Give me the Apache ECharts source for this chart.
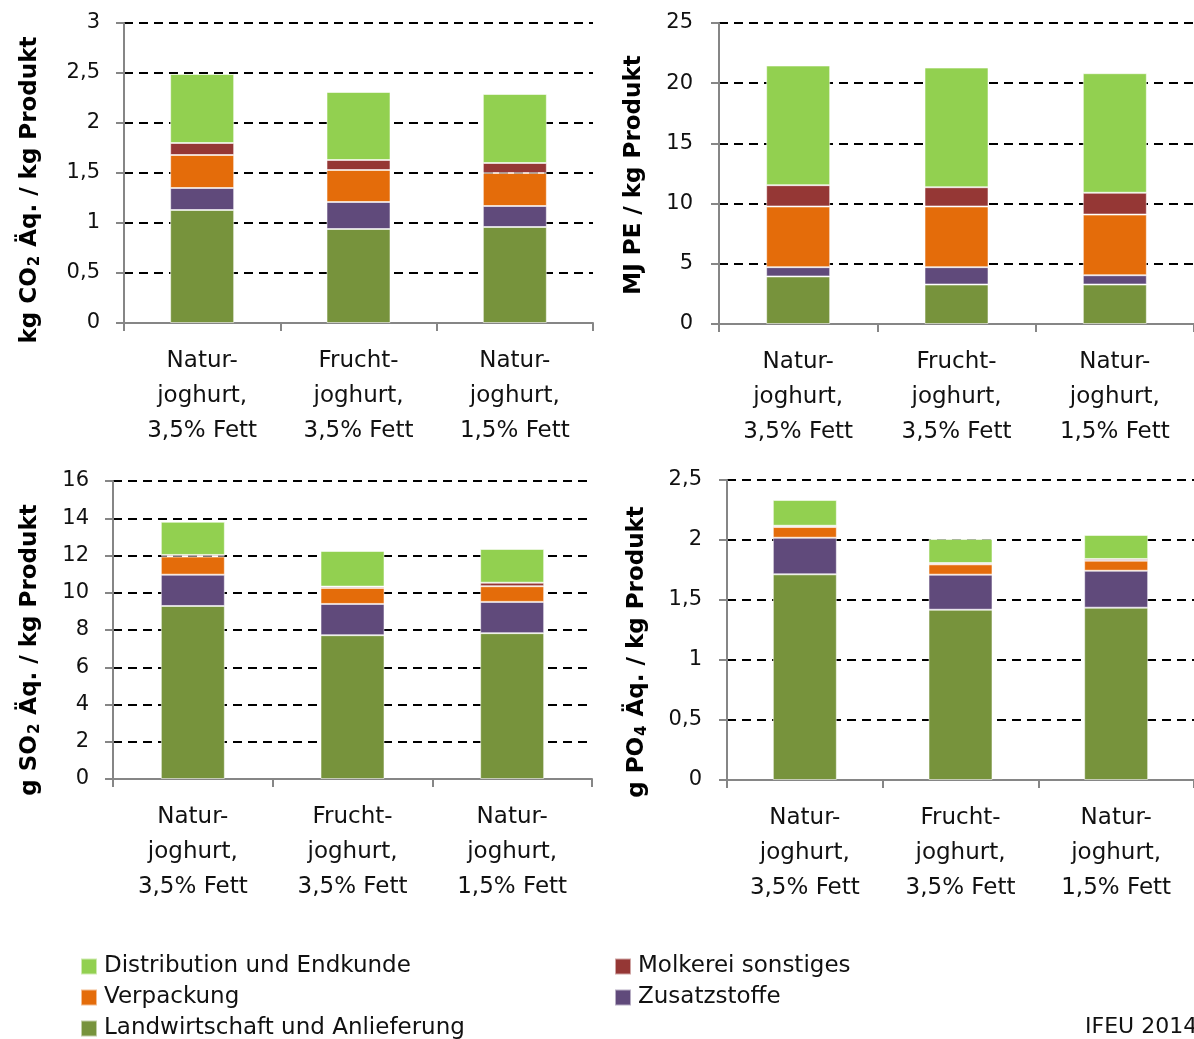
<!DOCTYPE html>
<html>
<head>
<meta charset="utf-8">
<title>Joghurt Umweltwirkungen</title>
<script src="https://cdn.jsdelivr.net/npm/echarts@6/dist/echarts.min.js"></script>
<style>
  html, body { margin: 0; padding: 0; background: #fff; }
  #chart { width: 1194px; height: 1039px; }
</style>
</head>
<body>
<div id="chart"></div>
<script>
// Produkte (x-Achse)
const categories = [
  'Natur-\njoghurt,\n3,5% Fett',
  'Frucht-\njoghurt,\n3,5% Fett',
  'Natur-\njoghurt,\n1,5% Fett'
];

// Lebenswegabschnitte (von unten nach oben gestapelt)
const stageNames = [
  'Landwirtschaft und Anlieferung',
  'Zusatzstoffe',
  'Verpackung',
  'Molkerei sonstiges',
  'Distribution und Endkunde'
];
const stageColors = ['#77933C', '#604A7B', '#E46C0A', '#953735', '#92D050'];

// Treibhauseffekt: kg CO2 Äq. / kg Produkt
const co2Landwirtschaft = [1.13, 0.94, 0.96];
const co2Zusatzstoffe   = [0.22, 0.27, 0.21];
const co2Verpackung     = [0.33, 0.32, 0.33];
const co2Molkerei       = [0.12, 0.10, 0.10];
const co2Distribution   = [0.69, 0.68, 0.69];

// Primärenergie: MJ PE / kg Produkt
const peLandwirtschaft = [3.95, 3.28, 3.28];
const peZusatzstoffe   = [0.77, 1.44, 0.77];
const peVerpackung     = [5.04, 5.04, 5.04];
const peMolkerei       = [1.77, 1.60, 1.81];
const peDistribution   = [9.94, 9.94, 9.93];

// Versauerung: g SO2 Äq. / kg Produkt
const so2Landwirtschaft = [9.29, 7.72, 7.83];
const so2Zusatzstoffe   = [1.68, 1.68, 1.68];
const so2Verpackung     = [0.97, 0.86, 0.84];
const so2Molkerei       = [0.09, 0.07, 0.19];
const so2Distribution   = [1.78, 1.91, 1.81];

// Eutrophierung: g PO4 Äq. / kg Produkt
const po4Landwirtschaft = [1.714, 1.419, 1.436];
const po4Zusatzstoffe   = [0.305, 0.292, 0.308];
const po4Verpackung     = [0.089, 0.086, 0.084];
const po4Molkerei       = [0.011, 0.011, 0.014];
const po4Distribution   = [0.214, 0.200, 0.200];

// Achsenbereiche je Diagramm
const co2Axis = { min: 0, max: 3, interval: 0.5 };
const peAxis  = { min: 0, max: 25, interval: 5 };
const so2Axis = { min: 0, max: 16, interval: 2 };
const po4Axis = { min: 0, max: 2.5, interval: 0.5 };

const panels = [
  { axis: co2Axis, data: [co2Landwirtschaft, co2Zusatzstoffe, co2Verpackung, co2Molkerei, co2Distribution] },
  { axis: peAxis,  data: [peLandwirtschaft, peZusatzstoffe, peVerpackung, peMolkerei, peDistribution] },
  { axis: so2Axis, data: [so2Landwirtschaft, so2Zusatzstoffe, so2Verpackung, so2Molkerei, so2Distribution] },
  { axis: po4Axis, data: [po4Landwirtschaft, po4Zusatzstoffe, po4Verpackung, po4Molkerei, po4Distribution] }
];

const FONT = '"DejaVu Sans", sans-serif';
const AXIS_GRAY = '#868686';

const grids = [
  { left: 124, top: 23,  width: 469, height: 300 },
  { left: 719, top: 23,  width: 478, height: 301 },
  { left: 113, top: 481, width: 479, height: 298 },
  { left: 727, top: 480, width: 470, height: 300 }
];
const labelMargins = [24, 26, 24, 25];

const xAxes = grids.map((g, i) => ({
  type: 'category',
  gridIndex: i,
  data: categories,
  axisLine: { lineStyle: { color: AXIS_GRAY, width: 2 } },
  axisTick: { show: true, length: 8, lineStyle: { color: AXIS_GRAY, width: 2 } },
  axisLabel: {
    color: '#111', fontFamily: FONT, fontSize: 23, lineHeight: 35, margin: 21,
    interval: 0
  }
}));

const yAxes = panels.map((p, i) => ({
  type: 'value',
  gridIndex: i,
  min: p.axis.min,
  max: p.axis.max,
  interval: p.axis.interval,
  axisLine: { show: true, lineStyle: { color: AXIS_GRAY, width: 2 } },
  axisTick: { show: true, length: 8, lineStyle: { color: AXIS_GRAY, width: 2 } },
  splitLine: { show: true, lineStyle: { color: '#000', width: 2, type: [9, 6] } },
  axisLabel: {
    color: '#111', fontFamily: FONT, fontSize: 21, margin: labelMargins[i],
    formatter: v => String(v).replace('.', ',')
  }
}));

const series = [];
panels.forEach((p, i) => {
  p.data.forEach((values, s) => {
    series.push({
      type: 'bar',
      name: stageNames[s],
      xAxisIndex: i,
      yAxisIndex: i,
      stack: 'panel' + i,
      barWidth: 64,
      data: values,
      itemStyle: {
        color: stageColors[s],
        borderColor: 'rgba(255,255,255,0.55)',
        borderWidth: 1
      },
      emphasis: { disabled: true }
    });
  });
});

// Achsentitel mit tiefgestellten Ziffern
const titleRich = {
  b: { fontFamily: FONT, fontWeight: 'bold', fontSize: 23, lineHeight: 30, fill: '#000', verticalAlign: 'middle' },
  s: { fontFamily: FONT, fontWeight: 'bold', fontSize: 15, lineHeight: 30, fill: '#000', verticalAlign: 'bottom', padding: [0, 1, 2, 1] }
};
function axisTitle(x, y, text) {
  return {
    type: 'text',
    x: x, y: y,
    rotation: Math.PI / 2,
    style: { text: text, rich: titleRich, align: 'center', verticalAlign: 'middle' }
  };
}

const legendText = { color: '#111', fontFamily: FONT, fontSize: 23, lineHeight: 22, padding: [0, 0, 0, 2] };

const option = {
  animation: false,
  backgroundColor: '#fff',
  grid: grids.map(g => Object.assign({ containLabel: false }, g)),
  xAxis: xAxes,
  yAxis: yAxes,
  series: series,
  legend: [
    {
      orient: 'vertical', left: 80, top: 955, height: 100, itemGap: 8, padding: 0,
      itemWidth: 16, itemHeight: 16, icon: 'rect',
      textStyle: legendText,
      selectedMode: false,
      data: ['Distribution und Endkunde', 'Verpackung', 'Landwirtschaft und Anlieferung']
    },
    {
      orient: 'vertical', left: 614, top: 955, height: 100, itemGap: 8, padding: 0,
      itemWidth: 16, itemHeight: 16, icon: 'rect',
      textStyle: legendText,
      selectedMode: false,
      data: ['Molkerei sonstiges', 'Zusatzstoffe']
    }
  ],
  graphic: [
    axisTitle(30, 190, '{b|kg CO}{s|2}{b| Äq. / kg Produkt}'),
    axisTitle(634, 175, '{b|MJ PE / kg Produkt}'),
    axisTitle(30, 650, '{b|g SO}{s|2}{b| Äq. / kg Produkt}'),
    axisTitle(637, 652, '{b|g PO}{s|4}{b| Äq. / kg Produkt}'),
    {
      type: 'text', x: 1085, y: 1027,
      style: { text: 'IFEU 2014', fontFamily: FONT, fontSize: 22, fill: '#111', align: 'left', verticalAlign: 'middle' }
    }
  ]
};

const chart = echarts.init(document.getElementById('chart'), null, { renderer: 'canvas' });
chart.setOption(option);
</script>
</body>
</html>
